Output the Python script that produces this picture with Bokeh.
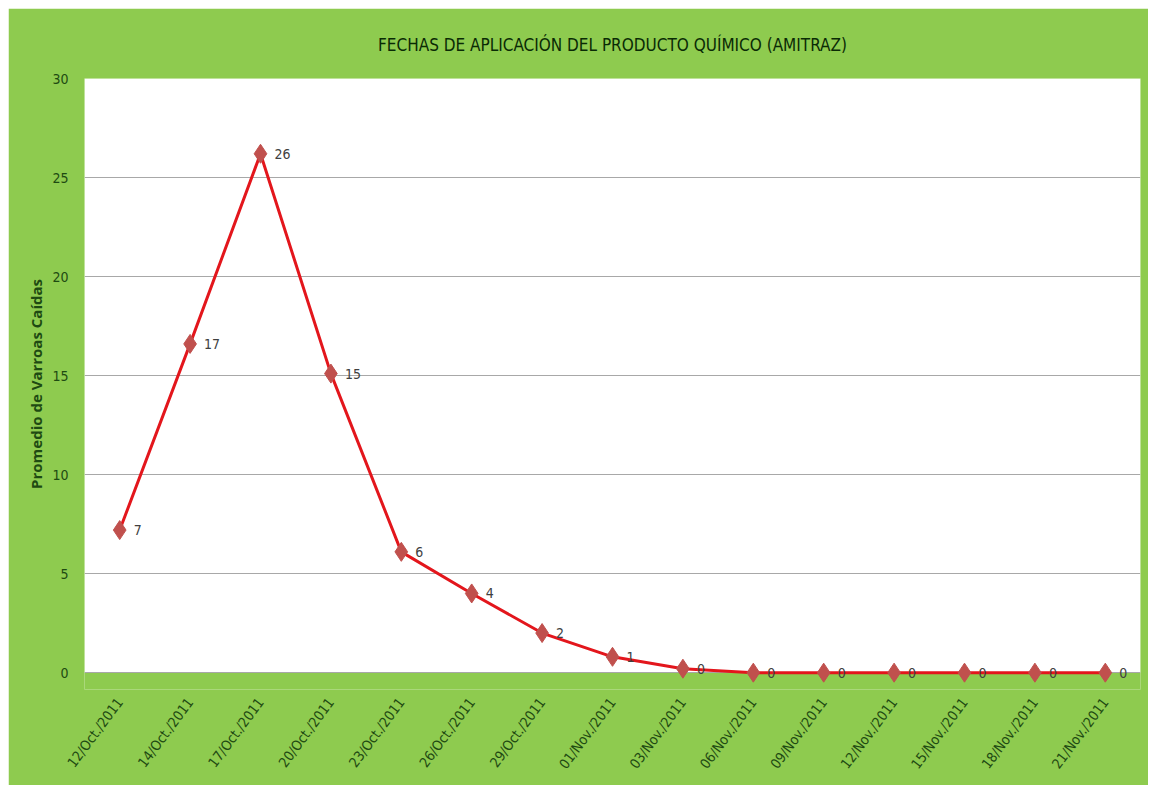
from bokeh.plotting import figure
from bokeh.models import (ColumnDataSource, FactorRange, Range1d, LabelSet, FixedTicker,
                          BoxAnnotation)
from bokeh.core.properties import value
from bokeh.embed import file_html
from bokeh.resources import INLINE

dates = ["12/Oct./2011", "14/Oct./2011", "17/Oct./2011", "20/Oct./2011", "23/Oct./2011",
         "26/Oct./2011", "29/Oct./2011", "01/Nov./2011", "03/Nov./2011", "06/Nov./2011",
         "09/Nov./2011", "12/Nov./2011", "15/Nov./2011", "18/Nov./2011", "21/Nov./2011"]
values = [7.2, 16.6, 26.2, 15.1, 6.1, 4.0, 2.0, 0.8, 0.2, 0.0, 0.0, 0.0, 0.0, 0.0, 0.0]
labels = ["7", "17", "26", "15", "6", "4", "2", "1", "0", "0", "0", "0", "0", "0", "0"]
y_ticks = [0, 5, 10, 15, 20, 25, 30]

GREEN = "#8ecb4f"
DARK = "#1e4a12"
FONT = "DejaVu Sans Condensed"

src = ColumnDataSource(dict(x=dates, y=values, lab=labels))

p = figure(x_range=FactorRange(*dates, range_padding=0), y_range=Range1d(-0.85, 30),
           width=1140, height=777, output_backend="svg", toolbar_location=None,
           margin=(8, 3, 10, 8),
           min_border_left=76, min_border_right=8, min_border_top=70, min_border_bottom=96,
           background_fill_color=GREEN, border_fill_color=GREEN,
           title="FECHAS DE APLICACIÓN DEL PRODUCTO QUÍMICO (AMITRAZ)")
p.outline_line_color = None
p.title.align = "center"
p.title.text_font = FONT
p.title.text_font_size = "17px"
p.title.text_font_style = "normal"
p.title.text_color = "#0a2a05"
p.title.standoff = 48

# white plotting area from 0 up to 30; below zero stays green
p.add_layout(BoxAnnotation(bottom=0, top=30, fill_color="white", fill_alpha=1,
                           line_color=None, level="image"))

p.line("x", "y", source=src, line_color="#e3161c", line_width=3)
p.scatter("x", "y", source=src, marker="diamond", size=19,
          fill_color="#c0504d", line_color="#c0504d")
p.add_layout(LabelSet(x="x", y="y", text="lab", source=src, x_offset=14, y_offset=0,
                      text_baseline="middle", text_font=value(FONT), text_font_size="14px",
                      text_color="#404040"))

p.xgrid.grid_line_color = None
p.ygrid.grid_line_color = "#a8a8a8"
p.ygrid.grid_line_width = 1
p.yaxis.ticker = FixedTicker(ticks=y_ticks)
for ax in (p.xaxis[0], p.yaxis[0]):
    ax.axis_line_color = None
    ax.major_tick_line_color = None
    ax.minor_tick_line_color = None
    ax.major_label_text_font = FONT
    ax.major_label_text_font_size = "14px"
    ax.major_label_text_color = DARK
p.yaxis.major_label_standoff = 10
p.xaxis.major_label_orientation = 0.93
p.xaxis.major_label_standoff = 4
p.yaxis.axis_label = "Promedio de Varroas Caídas"
p.yaxis.axis_label_text_font = "Open Sans"
p.yaxis.axis_label_text_font_size = "15px"
p.yaxis.axis_label_text_font_style = "bold"
p.yaxis.axis_label_text_color = DARK
p.yaxis.axis_label_standoff = 3

open("out.html", "w").write(file_html(p, INLINE))
